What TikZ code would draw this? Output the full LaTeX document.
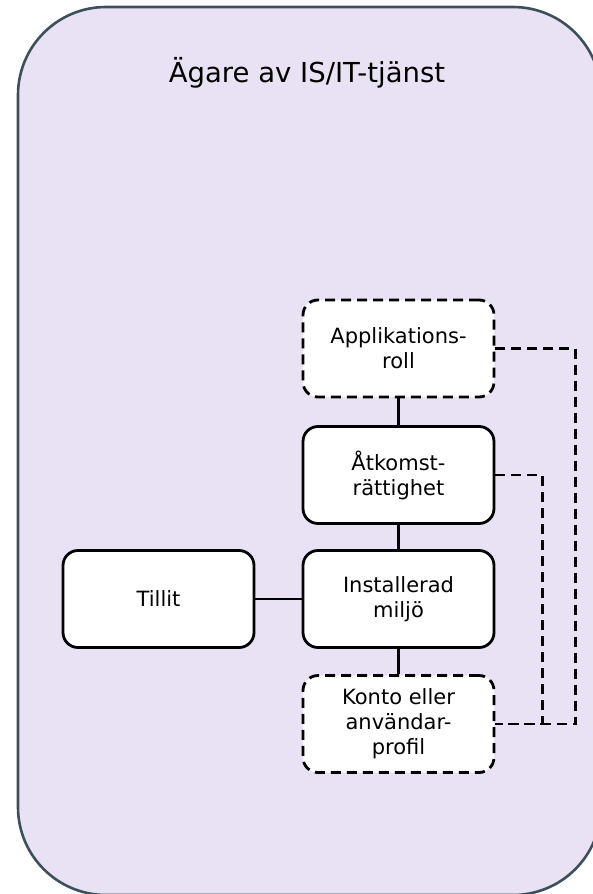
\documentclass[tikz,border=0pt]{standalone}
\usepackage{fontspec}
\setmainfont{DejaVu Sans}
\definecolor{lavendel}{RGB}{233, 226, 244}
\definecolor{kantgra}{RGB}{61, 79, 88}
\usetikzlibrary{positioning}

\begin{document}
\begin{tikzpicture}[x=1pt,y=-1pt,
    ruta/.style={draw=black,line width=2.8pt,fill=white,rounded corners=15pt,
      minimum width=191pt,minimum height=97pt,align=center,
      font=\fontsize{21}{25}\selectfont},
    streckruta/.style={ruta,dash pattern=on 10pt off 6pt},
    linje/.style={line width=2.8pt},
    strecklinje/.style={linje,dash pattern=on 10pt off 6pt}]
        \clip (0,0) rectangle (593,894);
        \draw[line width=2.6pt,kantgra,fill=lavendel,rounded corners=88pt] (18,7) rectangle (601,895);
        \node[font=\fontsize{27.5}{32}\selectfont] (titel) at (307,73) {Ägare av IS/IT-tjänst};

        \node[streckruta] (approll) at (398.5,348.5) {Applikations-\\roll};
        \node[ruta] (atkomst) at (398.5,475) {Åtkomst-\\rättighet};
        \node[ruta] (miljo) at (398.5,599) {Installerad\\miljö};
        \node[streckruta] (konto) at (398.5,724) {Konto eller\\användar-\\profil};
        \node[ruta] (tillit) at (158.5,599) {Tillit};

        \draw[linje] (approll) -- (atkomst);
        \draw[linje] (atkomst) -- (miljo);
        \draw[linje] (miljo) -- (konto);
        \draw[linje] (tillit) -- (miljo);
        \draw[strecklinje] (approll.east) -- ++(80,0) |- (konto.east);
        \draw[strecklinje] (atkomst.east) -- ++(47,0) |- (konto.east);
      \end{tikzpicture}
\end{document}
